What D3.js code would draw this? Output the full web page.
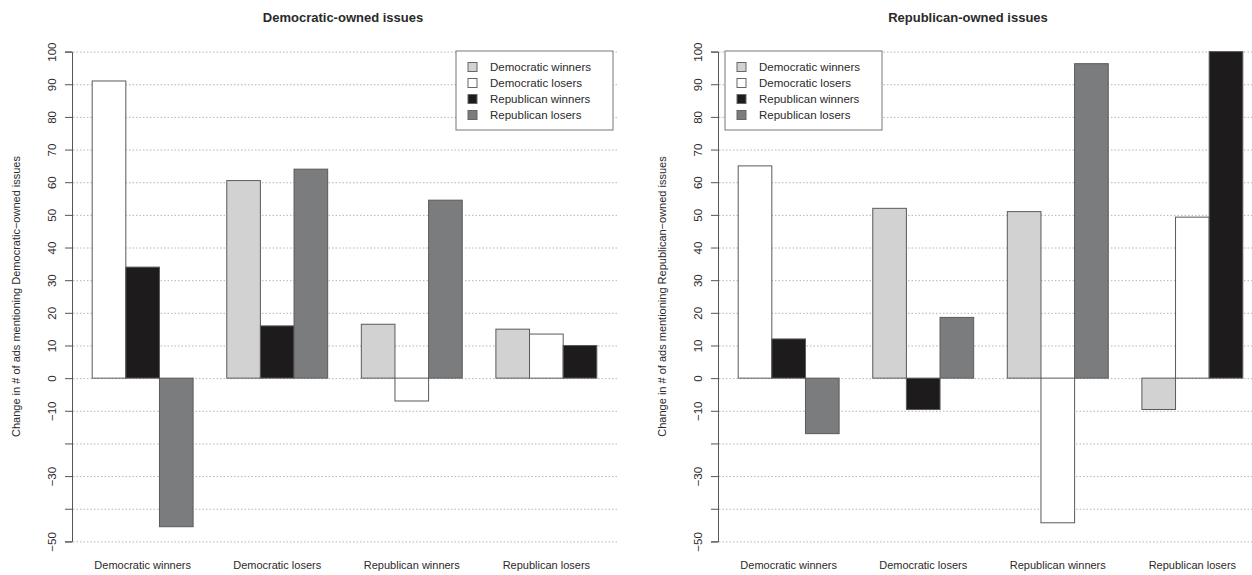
<!doctype html>
<html>
<head>
<meta charset="utf-8">
<script src="https://d3js.org/d3.v7.min.js"></script>
<style>
  body { margin: 0; background: #fff; }
  text { font-family: "Liberation Sans", Arial, sans-serif; fill: #2a2a2a; }
</style>
</head>
<body>
<script>

// categories (groups along x) and the series inside each group
var groups = ["Democratic winners", "Democratic losers", "Republican winners", "Republican losers"];
var seriesNames = ["Democratic winners", "Democratic losers", "Republican winners", "Republican losers"];
var seriesColors = ["#d2d2d2", "#ffffff", "#1d1b1b", "#7b7c7d"];

// y ticks (R dropped the -20 and -40 labels)
var yTicks = [-50, -40, -30, -20, -10, 0, 10, 20, 30, 40, 50, 60, 70, 80, 90, 100];
var yTickLabels = ["\u221250", "", "\u221230", "", "\u221210", "0", "10", "20", "30", "40", "50", "60", "70", "80", "90", "100"];

// Democratic-owned issues, one array per series (null = not shown in that group)
var demOwnedDemWinners = [null, 60.5, 16.5, 15];
var demOwnedDemLosers  = [91, null, -7, 13.5];
var demOwnedRepWinners = [34, 16, null, 10];
var demOwnedRepLosers  = [-45.5, 64, 54.5, null];

// Republican-owned issues
var repOwnedDemWinners = [null, 52, 51, -9.6];
var repOwnedDemLosers  = [65, null, -44.3, 49.3];
var repOwnedRepWinners = [12, -9.6, null, 100];
var repOwnedRepLosers  = [-17, 18.6, 96.3, null];

var W = 1252, H = 575;
var svg = d3.select("body").append("svg")
    .attr("width", W)
    .attr("height", H);

function panel(left, title, titleX, yTitle, seriesValues, legendX) {
    var plotLeft = left, plotRight = left + 545;
    var top = 32, bottom = 561;

    // bar units like R barplot(beside=TRUE): groups of 3 bars, 1 unit gap
    var x = d3.scaleLinear().domain([0.4, 16.6]).range([plotLeft, plotRight]);
    var y = d3.scaleLinear().domain([-56, 106]).range([bottom, top]);

    var g = svg.append("g");

    // dotted grid
    g.selectAll(".grid")
     .data(yTicks)
     .enter().append("line")
     .attr("x1", plotLeft + 1)
     .attr("x2", Math.min(plotRight, W))
     .attr("y1", function(d) { return y(d) + 0.5; })
     .attr("y2", function(d) { return y(d) + 0.5; })
     .attr("stroke", "#b4b4b4")
     .attr("stroke-width", 1)
     .attr("stroke-dasharray", "1.5,2");

    // bars
    var bars = [];
    groups.forEach(function(grp, gi) {
        var k = 0;
        seriesValues.forEach(function(vals, si) {
            var v = vals[gi];
            if (v === null) return;
            bars.push({ unit: 1 + 4 * gi + k, value: v, series: si });
            k++;
        });
    });

    g.selectAll(".bar")
     .data(bars)
     .enter().append("rect")
     .attr("class", "bar")
     .attr("x", function(d) { return x(d.unit); })
     .attr("width", function(d) { return x(d.unit + 1) - x(d.unit); })
     .attr("y", function(d) { return y(Math.max(0, d.value)); })
     .attr("height", function(d) { return Math.abs(y(d.value) - y(0)); })
     .attr("fill", function(d) { return seriesColors[d.series]; })
     .attr("stroke", "#5a5a5a")
     .attr("stroke-width", 1);

    // y axis from -50 to 100 only
    var yAxisScale = y.copy().domain([-50, 100]).range([y(-50), y(100)]);
    var ax = g.append("g")
     .attr("transform", "translate(" + plotLeft + ",0)")
     .call(d3.axisLeft(yAxisScale)
        .tickValues(yTicks)
        .tickSizeOuter(0)
        .tickSize(7)
        .tickFormat(function(d, i) { return yTickLabels[i]; }));
    ax.select(".domain").attr("stroke", "#555");
    ax.selectAll(".tick line").attr("stroke", "#555");
    ax.selectAll(".tick text")
      .attr("transform", "rotate(-90)")
      .attr("x", 0)
      .attr("y", -16)
      .attr("dy", "0")
      .attr("text-anchor", "middle")
      .attr("font-size", "11.5px")
      .style("fill", "#2a2a2a");

    // category labels
    g.selectAll(".cat")
     .data(groups)
     .enter().append("text")
     .attr("x", function(d, i) { return x(2.5 + 4 * i); })
     .attr("y", 569)
     .attr("text-anchor", "middle")
     .attr("font-size", "11px")
     .text(function(d) { return d; });

    // title
    g.append("text")
     .attr("x", titleX)
     .attr("y", 22)
     .attr("text-anchor", "middle")
     .attr("font-size", "13px")
     .attr("font-weight", "bold")
     .text(title);

    // y title
    g.append("text")
     .attr("transform", "translate(" + (plotLeft - 52) + "," + ((top + bottom) / 2) + ") rotate(-90)")
     .attr("text-anchor", "middle")
     .attr("font-size", "11px")
     .text(yTitle);

    // legend
    var lg = g.append("g").attr("transform", "translate(" + legendX + ",51)");
    lg.append("rect")
      .attr("width", 157).attr("height", 79)
      .attr("fill", "#fff")
      .attr("stroke", "#777");
    seriesNames.forEach(function(name, i) {
        var row = lg.append("g").attr("transform", "translate(0," + (16 + i * 16) + ")");
        row.append("rect")
           .attr("x", 12).attr("y", -4.5)
           .attr("width", 9).attr("height", 9)
           .attr("fill", seriesColors[i])
           .attr("stroke", "#666");
        row.append("text")
           .attr("x", 34).attr("y", 4)
           .attr("font-size", "11.5px")
           .text(name);
    });
}

panel(72, "Democratic-owned issues", 343,
      "Change in # of ads mentioning Democratic\u2212owned issues",
      [demOwnedDemWinners, demOwnedDemLosers, demOwnedRepWinners, demOwnedRepLosers], 456);

panel(718, "Republican-owned issues", 968,
      "Change in # of ads mentioning Republican\u2212owned issues",
      [repOwnedDemWinners, repOwnedDemLosers, repOwnedRepWinners, repOwnedRepLosers], 725);

</script>
</body>
</html>
